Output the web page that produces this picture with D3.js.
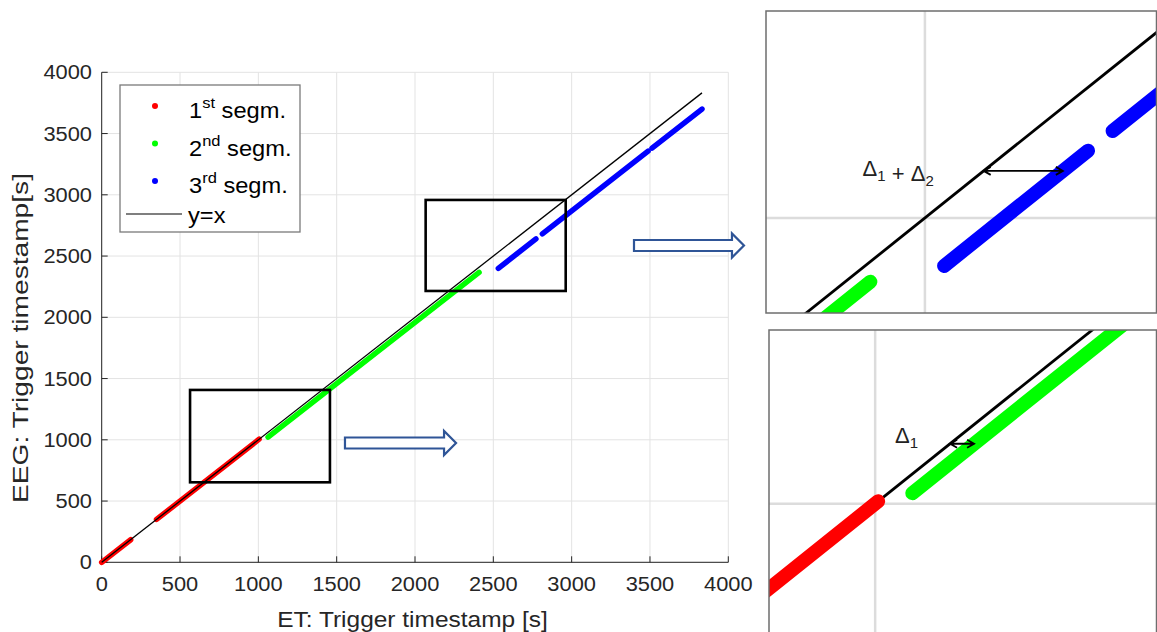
<!DOCTYPE html>
<html><head><meta charset="utf-8">
<script src="https://cdn.jsdelivr.net/npm/d3@7"></script>
<style>
body{margin:0;background:#fff}
svg{display:block}
text{font-family:"Liberation Sans",Arial,sans-serif}
</style>
</head><body>
<svg id="c" width="1157" height="632"></svg>
<script>
// ---------- data ----------
const xTicks = [0,500,1000,1500,2000,2500,3000,3500,4000];
const yTicks = [0,500,1000,1500,2000,2500,3000,3500,4000];
// runs of trigger points: [ET start, EEG start, ET end, EEG end]
const redRuns   = [[0,0,185,184],[350,350,1005,1005]];
const greenRuns = [[1062,1022,2409,2367]];
const blueRuns  = [[2532,2400,2772,2640],[2813,2681,3488,3356],[3513,3381,3832,3700]];
const identityRange = [0,3832];
const seriesNames = ["1","2","3"];
const seriesSup = ["st","nd","rd"];
const seriesColors = ["#ff0000","#00ff00","#0000ff"];
// zoom boxes in data units [x0,y0,x1,y1]
const zoomBoxes = [[564,653,1457,1407],[2068,2215,2962,2958]];
// hollow arrows [xStart, y, xEnd] in data units
const hollowArrows = [[3398,2586,4100],[1553,974,2262]];
// insets: domains in data units
const topInsetX = [2235,2887], topInsetY = [2302,2931], topInsetGrid = [2500,2500];
const botInsetX = [823,1470],  botInsetY = [716,1362],  botInsetGrid = [1000,1000];
// delta arrows [y, xFrom, xTo] and label positions [x,y]
const topDelta = [2598,2598,2730], topDeltaLabel = [2396,2588];
const botDelta = [1125,1125,1165], botDeltaLabel = [1033,1127];

const allRuns = [redRuns, greenRuns, blueRuns];

// ---------- setup ----------
const svg = d3.select("#c");
const x = d3.scaleLinear().domain([0,4000]).range([101.7,728.3]);
const y = d3.scaleLinear().domain([0,4000]).range([562.3,72.3]);
const SX = 1.12;
const axisCol = "#262626";

function stext(g, px, py, str, size, anchor, sx, fill){
  const t = g.append("g").attr("transform",`translate(${px},${py}) scale(${sx},1)`);
  t.append("text").attr("text-anchor",anchor).attr("font-size",size)
   .attr("fill",fill||axisCol).text(str);
  return t;
}

// ---------- main chart ----------
const main = svg.append("g");
// grid
main.selectAll(".gx").data(xTicks).join("line")
  .attr("x1",d=>x(d)).attr("x2",d=>x(d)).attr("y1",y(0)).attr("y2",y(4000))
  .attr("stroke","#e3e3e3").attr("stroke-width",1);
main.selectAll(".gy").data(yTicks).join("line")
  .attr("y1",d=>y(d)).attr("y2",d=>y(d)).attr("x1",x(0)).attr("x2",x(4000))
  .attr("stroke","#e3e3e3").attr("stroke-width",1);
// axes
main.append("line").attr("x1",x(0)).attr("x2",x(4000)).attr("y1",y(0)).attr("y2",y(0))
  .attr("stroke",axisCol).attr("stroke-width",1);
main.append("line").attr("x1",x(0)).attr("x2",x(0)).attr("y1",y(0)).attr("y2",y(4000))
  .attr("stroke",axisCol).attr("stroke-width",1);
xTicks.forEach(t=>{
  main.append("line").attr("x1",x(t)).attr("x2",x(t)).attr("y1",y(0)).attr("y2",y(0)-6)
    .attr("stroke",axisCol);
  stext(main, x(t), y(0)+29, String(t), 19.5, "middle", SX);
});
yTicks.forEach(t=>{
  main.append("line").attr("y1",y(t)).attr("y2",y(t)).attr("x1",x(0)).attr("x2",x(0)+6)
    .attr("stroke",axisCol);
  stext(main, 92, y(t)+7, String(t), 19.5, "end", SX);
});
stext(main, 412.5, 626.7, "ET: Trigger timestamp [s]", 22, "middle", 1.113);
main.append("g").attr("transform","translate(28,338) rotate(-90) scale(1.28,1)")
  .append("text").attr("text-anchor","middle").attr("font-size",22).attr("fill",axisCol)
  .text("EEG: Trigger timestamp[s]");

// data runs
const lineMain = d3.line().x(d=>x(d[0])).y(d=>y(d[1]));
allRuns.forEach((runs,i)=>{
  main.selectAll(null).data(runs).join("path")
    .attr("d",r=>lineMain([[r[0],r[1]],[r[2],r[3]]]))
    .attr("stroke",seriesColors[i]).attr("stroke-width",5.5)
    .attr("stroke-linecap","round").attr("fill","none");
});
main.append("path").attr("d",lineMain(identityRange.map(v=>[v,v])))
  .attr("stroke","#000").attr("stroke-width",1.3).attr("fill","none");

// zoom boxes
main.selectAll(null).data(zoomBoxes).join("rect")
  .attr("x",b=>x(b[0])).attr("y",b=>y(b[3]))
  .attr("width",b=>x(b[2])-x(b[0])).attr("height",b=>y(b[1])-y(b[3]))
  .attr("fill","none").attr("stroke","#000").attr("stroke-width",2.6);

// hollow arrows
function hollow(x0,x1,yc){
  const sh=5.5, hh=12, hl=12;
  return `M${x0},${yc-sh}L${x1-hl},${yc-sh}L${x1-hl},${yc-hh}L${x1},${yc}L${x1-hl},${yc+hh}L${x1-hl},${yc+sh}L${x0},${yc+sh}Z`;
}
main.selectAll(null).data(hollowArrows).join("path")
  .attr("d",a=>hollow(x(a[0]),x(a[2]),y(a[1])))
  .attr("fill","#fff").attr("stroke","#2f5597").attr("stroke-width",2.2);

// legend
const lg = main.append("g");
lg.append("rect").attr("x",120).attr("y",85).attr("width",180).attr("height",147)
  .attr("fill","#fff").attr("stroke","#7a7a7a").attr("stroke-width",1.3);
const legY = [106,143.5,181];
const legBase = [118,155.5,193];
seriesNames.forEach((n,i)=>{
  lg.append("circle").attr("cx",155).attr("cy",legY[i]).attr("r",3).attr("fill",seriesColors[i]);
  const g = lg.append("g").attr("transform",`translate(189,${legBase[i]}) scale(1.1,1)`);
  const t = g.append("text").attr("font-size",21.5).attr("fill","#000");
  t.append("tspan").text(n);
  t.append("tspan").attr("font-size",15).attr("dy",-10).text(seriesSup[i]);
  t.append("tspan").attr("dy",10).text(" segm.");
});
lg.append("line").attr("x1",126).attr("x2",182).attr("y1",214).attr("y2",214)
  .attr("stroke","#000").attr("stroke-width",1.2);
stext(lg, 188, 223, "y=x", 21.5, "start", 1.1, "#000");

// ---------- insets ----------
let clipId = 0;
function drawInset(fx, fy, dx, dy, grid, delta, label, subs){
  const xs = d3.scaleLinear().domain(dx).range(fx);
  const ys = d3.scaleLinear().domain(dy).range(fy);
  const id = "clip"+(clipId++);
  const left=fx[0], right=fx[1], top=fy[1], bottom=fy[0];
  svg.append("clipPath").attr("id",id).append("rect")
    .attr("x",left).attr("y",top).attr("width",right-left).attr("height",bottom-top);
  const g = svg.append("g");
  g.append("rect").attr("x",left).attr("y",top).attr("width",right-left).attr("height",bottom-top).attr("fill","#fff");
  const c = g.append("g").attr("clip-path",`url(#${id})`);
  c.append("line").attr("x1",xs(grid[0])).attr("x2",xs(grid[0])).attr("y1",top).attr("y2",bottom)
    .attr("stroke","#dcdcdc").attr("stroke-width",2.5);
  c.append("line").attr("y1",ys(grid[1])).attr("y2",ys(grid[1])).attr("x1",left).attr("x2",right)
    .attr("stroke","#dcdcdc").attr("stroke-width",2.5);
  const ln = d3.line().x(d=>xs(d[0])).y(d=>ys(d[1]));
  c.append("path").attr("d",ln(identityRange.map(v=>[v,v])))
    .attr("stroke","#000").attr("stroke-width",2.8).attr("fill","none");
  allRuns.forEach((runs,i)=>{
    c.selectAll(null).data(runs).join("path")
      .attr("d",r=>ln([[r[0],r[1]],[r[2],r[3]]]))
      .attr("stroke",seriesColors[i]).attr("stroke-width",14)
      .attr("stroke-linecap","round").attr("fill","none");
  });
  // delta arrow
  const ay = ys(delta[0]), ax0 = xs(delta[1]), ax1 = xs(delta[2]);
  g.append("path").attr("d",`M${ax0},${ay}L${ax1},${ay}M${ax0+7},${ay-4}L${ax0},${ay}L${ax0+7},${ay+4}M${ax1-7},${ay-4}L${ax1},${ay}L${ax1-7},${ay+4}`)
    .attr("stroke","#000").attr("stroke-width",1.8).attr("fill","none");
  const t = g.append("text").attr("x",xs(label[0])).attr("y",ys(label[1]))
    .attr("font-family","'Open Sans','DejaVu Sans',sans-serif").attr("font-size",22).attr("fill","#222");
  subs.forEach(s=>{
    if(s.sub){ t.append("tspan").attr("font-size",15).attr("dy",5).text(s.t); t.append("tspan").attr("dy",-5).text(""); }
    else t.append("tspan").text(s.t);
  });
  g.append("rect").attr("x",left).attr("y",top).attr("width",right-left-0.5).attr("height",bottom-top)
    .attr("fill","none").attr("stroke","#6e6e6e").attr("stroke-width",1.5);
}
drawInset([766,1157],[313,11],topInsetX,topInsetY,topInsetGrid,topDelta,topDeltaLabel,
  [{t:"Δ"},{t:"1",sub:true},{t:"\u00a0+\u00a0Δ"},{t:"2",sub:true}]);
drawInset([769,1157],[640,330],botInsetX,botInsetY,botInsetGrid,botDelta,botDeltaLabel,
  [{t:"Δ"},{t:"1",sub:true}]);
</script>
</body></html>
